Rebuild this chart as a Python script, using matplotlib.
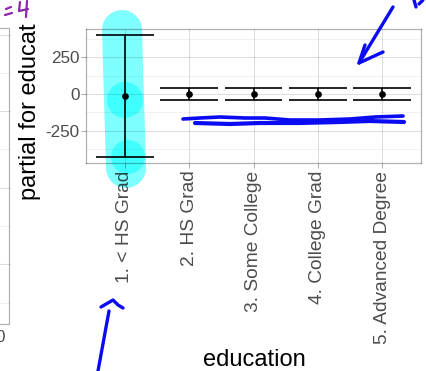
import numpy as np
import matplotlib.pyplot as plt
from matplotlib.patches import Circle
from matplotlib.transforms import Bbox

# partial effect of education (fit with upper/lower band)
education = ['1. < HS Grad', '2. HS Grad', '3. Some College', '4. College Grad', '5. Advanced Degree']
fit = [-13, -1, -1, -1, -1]
upper = [400, 38, 38, 38, 38]
lower = [-427, -40, -40, -40, -40]
y_ticks = [-250, 0, 250]
y_minor = [-375, -125, 125, 375]

W, H = 427, 371
plt.rcParams['font.family'] = ['Liberation Sans', 'DejaVu Sans']
plt.rcParams['axes.unicode_minus'] = False
fig = plt.figure(figsize=(W / 100, H / 100), dpi=100)
fig.patch.set_facecolor('white')

def px_axes(left, top, right, bottom, **kw):
  return fig.add_axes([left / W, 1 - bottom / H, (right - left) / W, (bottom - top) / H], **kw)

def pixel_overlay(z):
  ov = fig.add_axes([0, 0, 1, 1], zorder=z)
  ov.set_xlim(0, W)
  ov.set_ylim(H, 0)
  ov.axis('off')
  return ov

grey70 = (0, 0, 0, 0.3)
grey30 = (0, 0, 0, 0.7)
xtick_size = 13.8
ytick_size = 12.3

# background layer: highlighter + piece of the neighbouring panel
bg = pixel_overlay(-1)
cyan = (0, 1, 1)
bg.plot([122, 126], [30, 168], color=cyan, alpha=0.5, lw=40 * 0.72, solid_capstyle='round')
bg.add_patch(Circle((125, 100), 18, color=cyan, alpha=0.5, lw=0))
bg.add_patch(Circle((128, 157), 17, color=cyan, alpha=0.5, lw=0))

for k in range(8):
  yy = 34.5 + 38.3 * k
  bg.plot([0, 9], [yy, yy], color=(0, 0, 0, 0.13 if k % 2 == 0 else 0.06), lw=0.8)
bg.plot([0, 9, 9, 0], [28, 28, 324, 324], color=grey70, lw=0.9)
bg.text(0, 337, '0', ha='center', va='center', fontsize=ytick_size, color=grey30)

# main panel
ax = px_axes(86, 29, 421, 163)
ax.set_facecolor('none')
x = np.arange(1, len(education) + 1)
ax.vlines(x, lower, upper, color='k', lw=1.2)
ax.hlines(upper, x - 0.45, x + 0.45, color='k', lw=1.2)
ax.hlines(lower, x - 0.45, x + 0.45, color='k', lw=1.2)
ax.plot(x, fit, 'o', color='k', ms=3.8)

ax.set_xlim(0.4, 5.6)
ax.set_ylim(-468, 441)
ax.set_xticks(x)
ax.set_xticklabels(education, rotation=90, va='top', ha='center')
ax.set_yticks(y_ticks)
ax.set_yticks(y_minor, minor=True)
ax.set_axisbelow(True)
ax.grid(which='major', color='k', alpha=0.13, lw=0.8)
ax.yaxis.grid(which='minor', color='k', alpha=0.06, lw=0.6)
ax.tick_params(which='major', length=3.5, width=0.8, color=grey70, labelcolor=grey30)
ax.tick_params(axis='y', pad=1.2, labelsize=ytick_size)
ax.tick_params(axis='x', pad=2, labelsize=xtick_size)
ax.tick_params(which='minor', length=0)
for s in ax.spines.values():
  s.set_color(grey70)
  s.set_linewidth(0.9)

fig.text(254 / W, 5 / H, 'education', ha='center', va='baseline', fontsize=17)
ylab = fig.text(30 / W, 1 - 96 / H, 'partial for education', rotation=90, ha='center', va='center', fontsize=17)
ylab.set_clip_box(Bbox([[0, 0], [W, H - 24]]))
ylab.set_clip_on(True)

# pen annotations on top
top = pixel_overlay(5)
blue = '#0b0bf2'
pen = dict(color=blue, lw=2.4, solid_capstyle='round', solid_joinstyle='round')
top.plot([98, 109], [371, 311], **pen)
top.plot([101, 113, 118, 123], [307, 300, 305, 308], **pen)
top.plot([393, 359], [7, 63], **pen)
top.plot([365, 359, 383], [45, 63, 52], **pen)
top.plot([414, 416], [0, 7], **pen)
top.plot([419, 423], [4, 0], **pen)
top.plot([183, 200, 220, 245, 265, 290, 320, 350, 375, 403],
         [119, 118, 117, 118, 118, 120, 120, 119, 117, 116], color=blue, lw=2.6, solid_capstyle='round')
top.plot([195, 230, 260, 300, 340, 370, 404],
         [123, 124, 123, 123, 122, 121, 122], color=blue, lw=3.0, solid_capstyle='round')

purple = '#8e24aa'
ppen = dict(color=purple, lw=1.6, solid_capstyle='round')
top.plot([6, 11], [9, 7], **ppen)
top.plot([5, 12], [15, 13], **ppen)
top.plot([20, 19, 28], [2, 11, 9], **ppen)
top.plot([27, 26], [1, 17], **ppen)

fig.savefig('out.png', dpi=100)
